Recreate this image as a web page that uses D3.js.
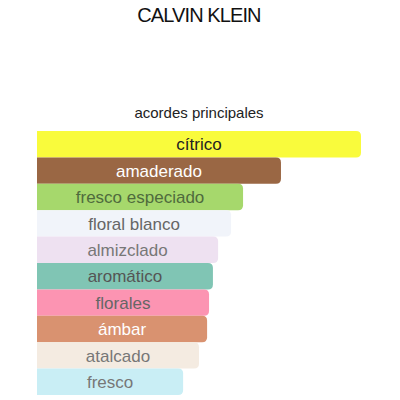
<!DOCTYPE html>
<html>
<head>
<meta charset="utf-8">
<script src="https://cdn.jsdelivr.net/npm/d3@7"></script>
<style>
  body { margin: 0; background: #fff; }
  svg { display: block; font-family: "Liberation Sans", Arial, sans-serif; }
</style>
</head>
<body>
<svg id="svg" width="400" height="400"></svg>
<script>
// acordes, de mayor a menor
const accords = ["cítrico", "amaderado", "fresco especiado", "floral blanco", "almizclado",
                 "aromático", "florales", "ámbar", "atalcado", "fresco"];
const strength = [100, 75.3, 63.6, 59.9, 55.9, 54.3, 53.1, 52.5, 50, 45.1];
const barColors = ["#f9fb3c", "#9a6744", "#a6d86c", "#f1f4fa", "#eee1f1",
                   "#80c5b4", "#fc94b2", "#d99270", "#f4ebe1", "#c9eef5"];
const textColors = ["#222", "#fff", "#4f6b3d", "#666", "#777",
                    "#555", "#666", "#fff", "#777", "#777"];

const svg = d3.select("#svg");

svg.append("text")
    .attr("x", 199).attr("y", 22)
    .attr("text-anchor", "middle")
    .attr("font-size", 20)
    .attr("letter-spacing", -0.9)
    .attr("fill", "#111")
    .text("CALVIN KLEIN");

svg.append("text")
    .attr("x", 199).attr("y", 118)
    .attr("text-anchor", "middle")
    .attr("font-size", 15)
    .attr("fill", "#222")
    .text("acordes principales");

const x = d3.scaleLinear().domain([0, 100]).range([37, 361]);
const y = d3.scaleBand().domain(accords).range([131, 395]).padding(0);

const r = 5;
// barra con esquinas derechas redondeadas
const barPath = function(d){
    const x0 = x(0), x1 = x(strength[accords.indexOf(d)]);
    const y0 = y(d), y1 = y(d) + y.bandwidth();
    return `M${x0},${y0}H${x1 - r}Q${x1},${y0} ${x1},${y0 + r}V${y1 - r}Q${x1},${y1} ${x1 - r},${y1}H${x0}Z`;
};

const g = svg.append("g");
g.selectAll(".bar")
    .data(accords)
    .enter()
    .append("path")
    .attr("class", "bar")
    .attr("d", barPath)
    .attr("fill", (d, i) => barColors[i]);

g.selectAll(".label")
    .data(accords)
    .enter()
    .append("text")
    .attr("class", "label")
    .attr("x", (d, i) => (x(0) + x(strength[i])) / 2)
    .attr("y", d => y(d) + y.bandwidth() / 2)
    .attr("dy", "0.36em")
    .attr("text-anchor", "middle")
    .attr("font-size", 17)
    .attr("font-weight", (d, i) => textColors[i] === "#fff" ? 500 : 400)
    .attr("fill", (d, i) => textColors[i])
    .text(d => d);
</script>
</body>
</html>
